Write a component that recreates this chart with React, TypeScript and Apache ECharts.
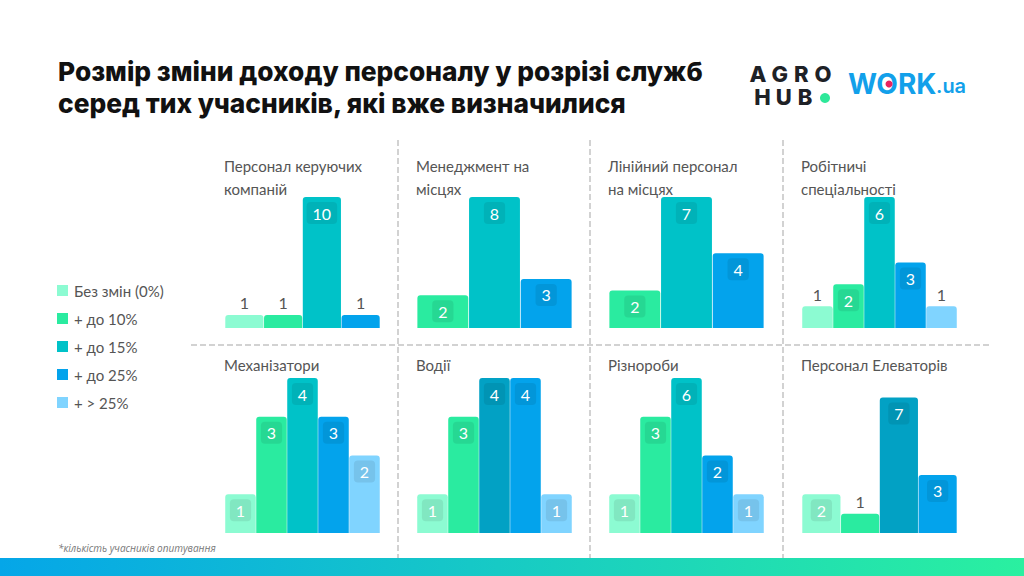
import React, { useEffect, useRef } from "react";
import * as echarts from "echarts";

const categories = ["Без змін (0%)", "+ до 10%", "+ до 15%", "+ до 25%", "+ > 25%"];
const categoryColors = ["#8CFBD2", "#2AEBA0", "#00C2C8", "#03A3EC", "#80D4FF"];
const darkTeal = "#02A1C4";

const panelTitles = [
  "Персонал керуючих\nкомпаній",
  "Менеджмент на\nмісцях",
  "Лінійний персонал\nна місцях",
  "Робітничі\nспеціальності",
  "Механізатори",
  "Водії",
  "Різнороби",
  "Персонал Елеваторів",
];

// values per panel, in the order of categories; null = no bar
const v1 = [1, 1, 10, 1, null];
const v2 = [null, 2, 8, 3, null];
const v3 = [null, 2, 7, 4, null];
const v4 = [1, 2, 6, 3, 1];
const v5 = [1, 3, 4, 3, 2];
const v6 = [1, 3, 4, 4, 1];
const v7 = [1, 3, 6, 2, 1];
const v8 = [2, 1, 7, 3, null];
const panelValues = [v1, v2, v3, v4, v5, v6, v7, v8];
const panelAxisMax = [10, 8, 7, 6, 4, 4, 4, 8];
// panels whose "+ до 15%" bar is drawn in the darker teal
const darkTealPanels = [5, 7];

const colLeft = [225, 417, 609, 802];
const rowTop = [197, 378];
const rowHeight = [131, 155];
const gridWidth = 155;

const agroLetters = ["A", "G", "R", "O"];
const hubLetters = ["H", "U", "B"];

export default function App() {
  const ref = useRef<HTMLDivElement>(null);

  useEffect(() => {
    if (!ref.current) return;
    const chart = echarts.init(ref.current, null, { renderer: "svg" });

    const grids: any[] = [];
    const xAxes: any[] = [];
    const yAxes: any[] = [];
    const series: any[] = [];
    const titles: any[] = [
      {
        text: "Розмір зміни доходу персоналу у розрізі служб\nсеред тих учасників, які вже визначилися",
        left: 53,
        top: 50,
        textStyle: {
          fontFamily: "Inter",
          fontWeight: 800,
          fontSize: 26.3,
          lineHeight: 32,
          color: "#111",
        },
      },
    ];

    panelValues.forEach((vals, p) => {
      const row = Math.floor(p / 4);
      const col = p % 4;
      const h = rowHeight[row];
      const max = panelAxisMax[p];
      grids.push({ left: colLeft[col], top: rowTop[row], width: gridWidth, height: h });
      const present = vals.map((v, i) => (v == null ? -1 : i)).filter((i) => i >= 0);
      xAxes.push({
        type: "category",
        gridIndex: p,
        data: present.map((i) => categories[i]),
        show: false,
      });
      yAxes.push({ type: "value", gridIndex: p, min: 0, max, show: false });
      titles.push({
        text: panelTitles[p],
        left: colLeft[col] - 6,
        top: row === 0 ? 149 : 348,
        textStyle: {
          fontFamily: "Lato",
          fontWeight: "normal",
          fontSize: 15,
          lineHeight: 23,
          color: "#555",
        },
      });
      present.forEach((c) => {
        const value = vals[c] as number;
        const px = (value / max) * h;
        const inside = px >= 30;
        const color = c === 2 && darkTealPanels.includes(p) ? darkTeal : categoryColors[c];
        series.push({
          type: "bar",
          name: categories[c],
          xAxisIndex: p,
          yAxisIndex: p,
          stack: "panel" + p,
          barCategoryGap: "1.5%",
          itemStyle: { color: categoryColors[c], borderRadius: [3, 3, 0, 0] },
          data: present.map((cc) =>
            cc === c
              ? {
                  value,
                  itemStyle: { color },
                  label: inside
                    ? {
                        show: true,
                        position: "insideTop",
                        distance: 5,
                        color: "#fff",
                        fontFamily: "Lato",
                        fontSize: 16,
                        backgroundColor: "rgba(0,0,0,0.08)",
                        borderRadius: 4,
                        padding: [3, 6, 3, 6],
                      }
                    : {
                        show: true,
                        position: "top",
                        distance: 4,
                        color: "#555",
                        fontFamily: "Lato",
                        fontSize: 16,
                      },
                }
              : "-"
          ),
        });
      });
    });

    const dash = { stroke: "#d2d2d2", lineWidth: 2, lineDash: [6, 3] };

    const logoLetter = (t: string, x: number, y: number) => ({
      type: "text",
      x,
      y,
      style: {
        text: t,
        fontFamily: "Inter",
        fontWeight: 800,
        fontSize: 22,
        fill: "#1E2126",
        align: "center",
        verticalAlign: "middle",
      },
    });

    chart.setOption({
      animation: false,
      backgroundColor: "#fff",
      title: titles,
      legend: {
        data: categories,
        orient: "vertical",
        left: 52,
        top: 278,
        icon: "rect",
        itemWidth: 11,
        itemHeight: 11,
        itemGap: 13,
        textStyle: { fontFamily: "Lato", fontSize: 15, color: "#555", padding: [0, 0, 0, 1] },
      },
      grid: grids,
      xAxis: xAxes,
      yAxis: yAxes,
      series,
      graphic: [
        { type: "line", shape: { x1: 191, y1: 345, x2: 990, y2: 345 }, style: dash, silent: true },
        { type: "line", shape: { x1: 398, y1: 140, x2: 398, y2: 558 }, style: dash, silent: true },
        { type: "line", shape: { x1: 590, y1: 140, x2: 590, y2: 558 }, style: dash, silent: true },
        { type: "line", shape: { x1: 783, y1: 140, x2: 783, y2: 558 }, style: dash, silent: true },
        {
          type: "rect",
          shape: { x: 0, y: 558, width: 1024, height: 18 },
          style: {
            fill: new echarts.graphic.LinearGradient(0, 0, 1, 0, [
              { offset: 0, color: "#05A6E8" },
              { offset: 1, color: "#2AF0A0" },
            ]),
          },
          silent: true,
        },
        {
          type: "text",
          x: 58,
          y: 543,
          style: {
            text: "*кількість учасників опитування",
            fontFamily: "Open Sans",
            fontStyle: "italic",
            fontSize: 10,
            fill: "#777",
          },
        },
        // AGRO HUB logo
        ...agroLetters.map((t, i) => logoLetter(t, 758 + i * 21.7, 74)),
        ...hubLetters.map((t, i) => logoLetter(t, 762.5 + i * 21.3, 97)),
        { type: "circle", shape: { cx: 825, cy: 98, r: 5 }, style: { fill: "#2EE89A" } },
        // WORK.ua logo
        {
          type: "text",
          x: 848,
          y: 84,
          style: {
            text: "WORK",
            fontFamily: "Inter",
            fontWeight: 700,
            fontSize: 28,
            fill: "#12A0EA",
            verticalAlign: "middle",
          },
        },
        { type: "circle", shape: { cx: 889, cy: 84, r: 3.5 }, style: { fill: "#E8245F" } },
        {
          type: "text",
          x: 936,
          y: 96,
          style: {
            text: ".ua",
            fontFamily: "Inter",
            fontWeight: 600,
            fontSize: 20,
            fill: "#12A0EA",
            verticalAlign: "bottom",
          },
        },
      ],
    });

    return () => chart.dispose();
  }, []);

  return (
    <div
      ref={ref}
      style={{ position: "fixed", left: 0, top: 0, width: 1024, height: 576 }}
    />
  );
}
